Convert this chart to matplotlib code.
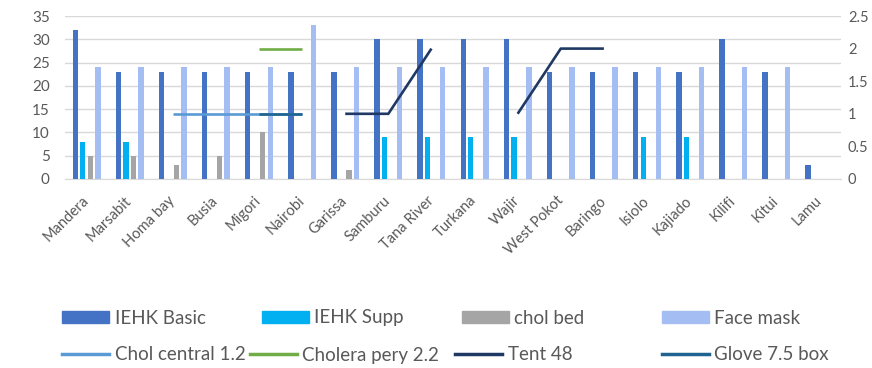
import numpy as np
import matplotlib
matplotlib.use("Agg")
import matplotlib.pyplot as plt
from matplotlib.patches import Patch
from matplotlib.lines import Line2D

plt.rcParams['font.family'] = ['Lato', 'DejaVu Sans']

counties = ["Mandera", "Marsabit", "Homa bay", "Busia", "Migori", "Nairobi",
            "Garissa", "Samburu", "Tana River", "Turkana", "Wajir", "West Pokot",
            "Baringo", "Isiolo", "Kajiado", "Kilifi", "Kitui", "Lamu"]

iehk_basic = [32, 23, 23, 23, 23, 23, 23, 30, 30, 30, 30, 23, 23, 23, 23, 30, 23, 3]
iehk_supp = [8, 8, 0, 0, 0, 0, 0, 9, 9, 9, 9, 0, 0, 9, 9, 0, 0, 0]
chol_bed = [5, 5, 3, 5, 10, 0, 2, 0, 0, 0, 0, 0, 0, 0, 0, 0, 0, 0]
face_mask = [24, 24, 24, 24, 24, 33, 24, 24, 24, 24, 24, 24, 24, 24, 24, 24, 24, 0]

nan = np.nan
chol_central = [nan, nan, 1, 1, 1, 1, nan, nan, nan, nan, nan, nan, nan, nan, nan, nan, nan, nan]
cholera_pery = [nan, nan, nan, nan, 2, 2, nan, nan, nan, nan, nan, nan, nan, nan, nan, nan, nan, nan]
tent_48 = [nan, nan, nan, nan, nan, nan, 1, 1, 2, nan, 1, 2, 2, nan, nan, nan, nan, nan]
glove_box = [nan, nan, nan, nan, 1, 1, nan, nan, nan, nan, nan, nan, nan, nan, nan, nan, nan, nan]

bar_series = [
    ("IEHK Basic", iehk_basic, "#4472C4"),
    ("IEHK Supp", iehk_supp, "#00B0F0"),
    ("chol bed", chol_bed, "#A5A5A5"),
    ("Face mask", face_mask, "#A4BEF3"),
]
line_series = [
    ("Chol central 1.2", chol_central, "#5B9BD5"),
    ("Cholera pery 2.2", cholera_pery, "#70AD47"),
    ("Tent 48", tent_48, "#203864"),
    ("Glove 7.5 box", glove_box, "#1F6391"),
]

text_color = "#595959"
fig = plt.figure(figsize=(8.72, 3.68), dpi=100)
ax = fig.add_axes([65 / 872, 189 / 368, 776 / 872, 163 / 368])
ax2 = ax.twinx()

x = np.arange(len(counties))
pitch = 0.174
width = 0.125
for i, (name, vals, col) in enumerate(bar_series):
    ax.bar(x + (i - 1.5) * pitch, vals, width=width, color=col, zorder=3)

for name, vals, col in line_series:
    ax2.plot(x, vals, color=col, lw=1.9, solid_capstyle='butt', zorder=4)

ax.set_xlim(-0.5, len(counties) - 0.5)
ax.set_ylim(0, 35)
ax.set_yticks(np.arange(0, 36, 5))
ax2.set_ylim(0, 2.5)
ax2.set_yticks([0, 0.5, 1, 1.5, 2, 2.5])
ax2.set_yticklabels(["0", "0.5", "1", "1.5", "2", "2.5"])

ax.yaxis.grid(True, color="#D9D9D9", lw=1.0, zorder=0)
ax.set_axisbelow(True)
for a in (ax, ax2):
    for s in a.spines.values():
        s.set_visible(False)
ax.spines['bottom'].set_visible(True)
ax.spines['bottom'].set_color("#D9D9D9")

ax.tick_params(axis='y', length=0, pad=11, labelsize=11, labelcolor=text_color)
ax2.tick_params(axis='y', length=0, pad=5, labelsize=10.5, labelcolor=text_color)
ax.set_xticks(x)
ax.set_xticklabels(counties, rotation=45, ha='right', va='center',
                   rotation_mode='anchor', fontsize=10.5, color=text_color)
ax.tick_params(axis='x', length=0, pad=14)

# legend entries laid out on a two-row grid below the plot
legend_slots = [
    (Patch(color=bar_series[0][2]), bar_series[0][0], 62, 318),
    (Patch(color=bar_series[1][2]), bar_series[1][0], 262, 318),
    (Patch(color=bar_series[2][2]), bar_series[2][0], 462, 318),
    (Patch(color=bar_series[3][2]), bar_series[3][0], 662, 318),
    (Line2D([], [], color=line_series[0][2], lw=2.5), line_series[0][0], 62, 355),
    (Line2D([], [], color=line_series[1][2], lw=2.5), line_series[1][0], 250, 355),
    (Line2D([], [], color=line_series[2][2], lw=2.5), line_series[2][0], 455, 355),
    (Line2D([], [], color=line_series[3][2], lw=2.5), line_series[3][0], 662, 355),
]
for handle, label, px, py in legend_slots:
    leg = fig.legend([handle], [label], loc='center left',
                     bbox_to_anchor=(px / 872, 1 - py / 368),
                     frameon=False, fontsize=13.5, handlelength=2.5,
                     handleheight=0.6, handletextpad=0.3, borderpad=0,
                     borderaxespad=0)
    for t in leg.get_texts():
        t.set_color(text_color)

fig.savefig("out.png", dpi=100)
